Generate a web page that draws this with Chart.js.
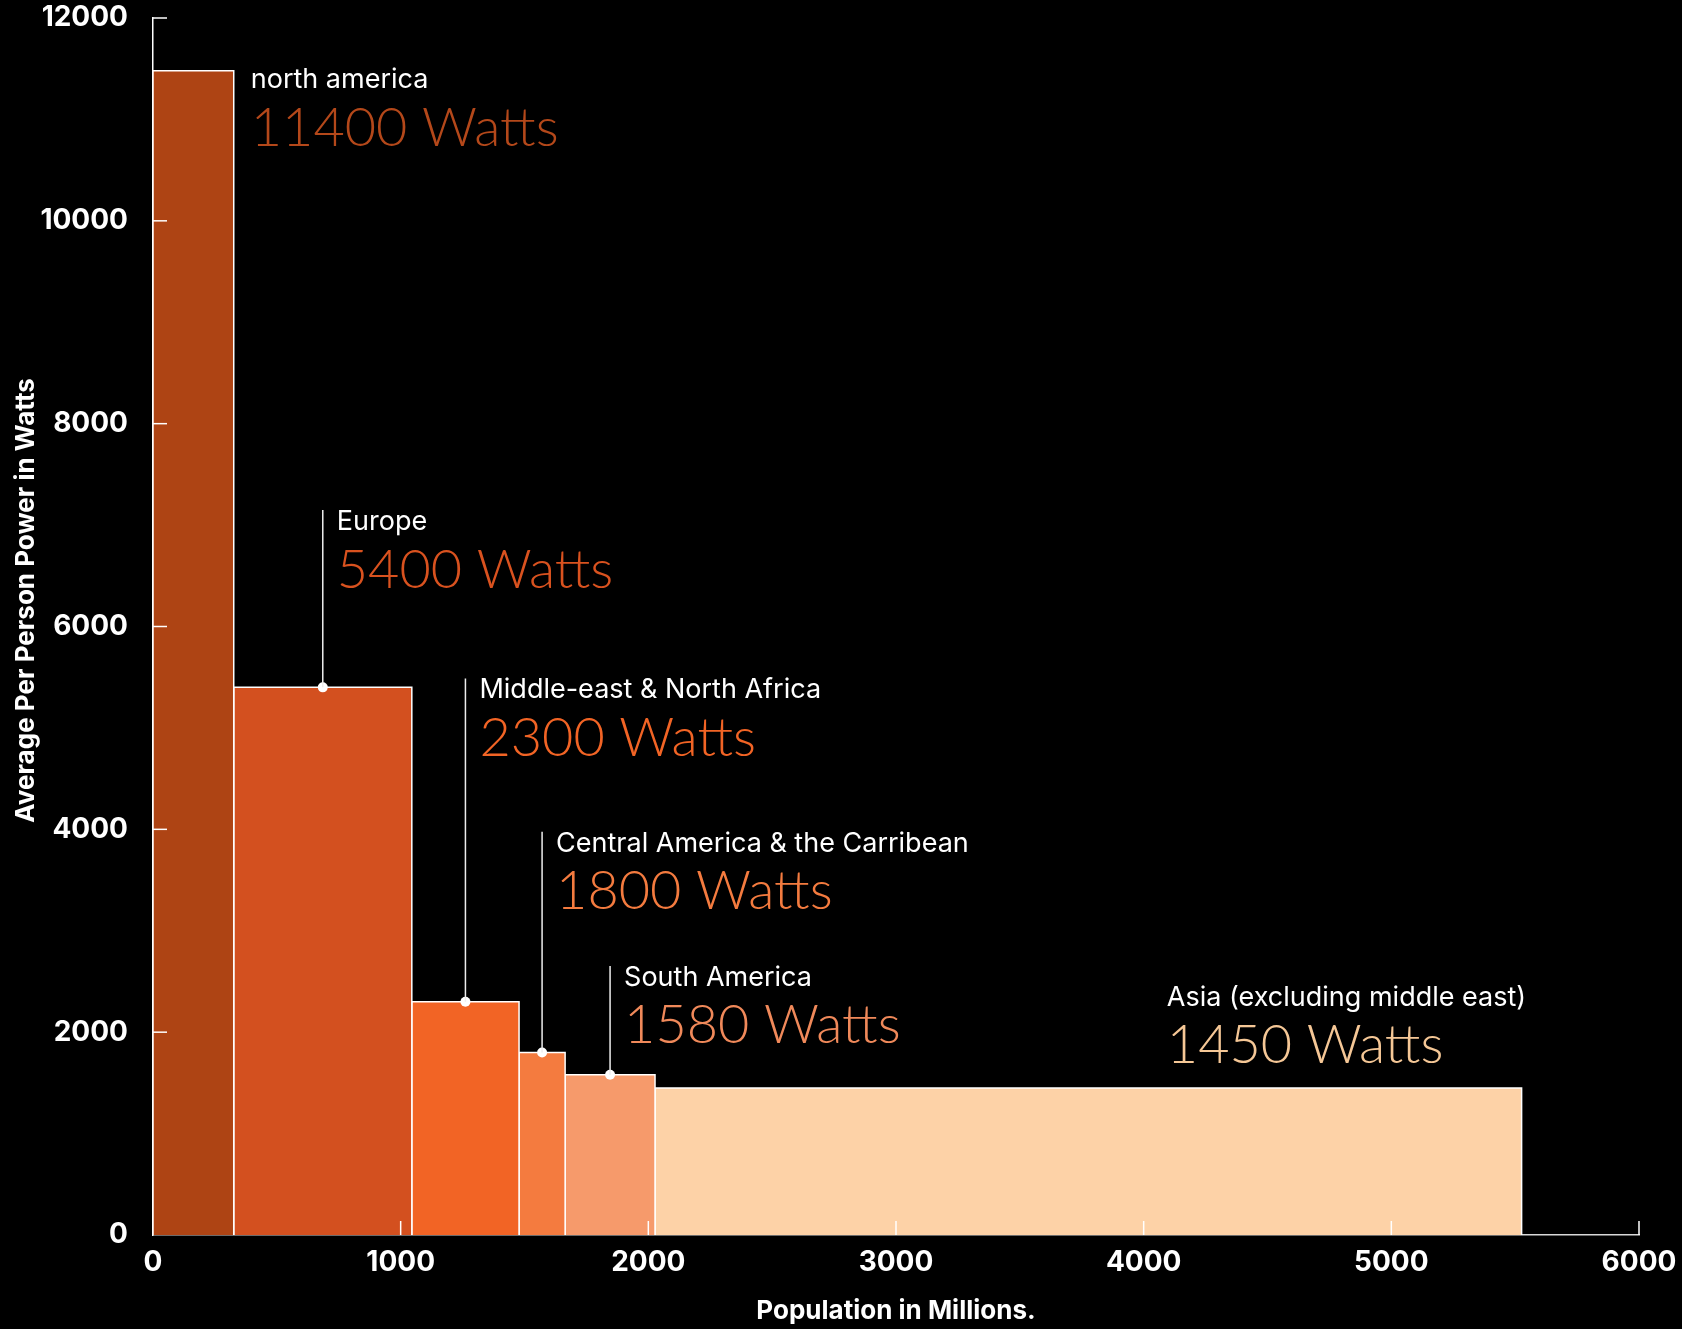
<!DOCTYPE html>
<html>
<head>
<meta charset="utf-8">
<script src="https://cdn.jsdelivr.net/npm/chart.js@4.4.0/dist/chart.umd.min.js"></script>
<style>
  html, body { margin: 0; padding: 0; background: #000; }
  #wrap { width: 1682px; height: 1329px; }
</style>
</head>
<body>
<div id="wrap"><canvas id="myChart"></canvas></div>
<script>
var regions = ["north america", "Europe", "Middle-east & North Africa", "Central America & the Carribean", "South America", "Asia (excluding middle east)"];
// population in millions, each region sits after the previous one
var popStart = [0, 326, 1045, 1478, 1664, 2027];
var popEnd = [326, 1045, 1478, 1664, 2027, 5526];
var power = [11480, 5400, 2300, 1800, 1580, 1450];
var wattLabels = [11400, 5400, 2300, 1800, 1580, 1450];
var xTicks = [0, 1000, 2000, 3000, 4000, 5000, 6000];
var yTicks = [0, 2000, 4000, 6000, 8000, 10000, 12000];

var colors = ["#ae4414", "#d3501f", "#f26425", "#f47b3f", "#f69a6b", "#fdd2a7"];
var textColors = ["#b4481a", "#d9521f", "#f26425", "#f47b3f", "#f0895a", "#f5c796"];

// where each label's first line sits (in chart units)
var hasLeader = [false, true, true, true, true, false];
var labelX = [326, null, null, null, null, 4025];
var labelBase = [11308, 6951, 5291, 3778, 2456, 2259];

var datasets = [];

// dots on top of the bars that have a leader line
var dots = [];
for (var i = 0; i < regions.length; i++) {
  if (hasLeader[i]) dots.push({ x: (popStart[i] + popEnd[i]) / 2, y: power[i] });
}
datasets.push({
  data: dots,
  showLine: false,
  pointRadius: 5,
  pointBackgroundColor: "#fff",
  pointBorderWidth: 0,
  order: 0
});

for (var i = 0; i < regions.length; i++) {
  datasets.push({
    label: regions[i],
    data: [
      { x: popStart[i], y: 0 },
      { x: popStart[i], y: power[i] },
      { x: popEnd[i], y: power[i] },
      { x: popEnd[i], y: 0 }
    ],
    showLine: true,
    fill: "origin",
    backgroundColor: colors[i],
    borderColor: "#fff",
    borderWidth: 1.5,
    pointRadius: 0,
    tension: 0,
    order: 1
  });
}

function seg(ctx, x1, y1, x2, y2) {
  ctx.beginPath();
  ctx.moveTo(x1, y1);
  ctx.lineTo(x2, y2);
  ctx.stroke();
}

var overlay = {
  id: "overlay",
  afterDatasetsDraw: function (chart) {
    var ctx = chart.ctx, xs = chart.scales.x, ys = chart.scales.y;
    ctx.save();
    ctx.strokeStyle = "#fff";
    ctx.lineWidth = 1.5;
    // ticks point into the plot
    xTicks.forEach(function (v) {
      var px = xs.getPixelForValue(v);
      if (v > 0) seg(ctx, px, ys.bottom, px, ys.bottom - 14);
    });
    yTicks.forEach(function (v) {
      var py = ys.getPixelForValue(v);
      if (v > 0) seg(ctx, xs.left, py, xs.left + 14, py);
    });

    ctx.textBaseline = "alphabetic";
    ctx.textAlign = "left";
    for (var i = 0; i < regions.length; i++) {
      var base = ys.getPixelForValue(labelBase[i]);
      var tx;
      if (hasLeader[i]) {
        var cx = xs.getPixelForValue((popStart[i] + popEnd[i]) / 2);
        ctx.strokeStyle = "#eee";
        ctx.lineWidth = 1.5;
        seg(ctx, cx, ys.getPixelForValue(power[i]), cx, base - 20);
        tx = cx + 14;
      } else {
        tx = xs.getPixelForValue(labelX[i]) + 17;
      }
      ctx.fillStyle = "#fff";
      ctx.font = "400 27px Inter, 'Noto Sans', sans-serif";
      ctx.fillText(regions[i], tx, base);
      ctx.fillStyle = textColors[i];
      ctx.font = "300 54px Lato, Inter, sans-serif";
      ctx.fillText(wattLabels[i] + " Watts", tx, base + 57.5);
    }

    // y axis title, sits a little above the middle of the axis
    ctx.save();
    ctx.translate(26, (ys.top + ys.bottom) / 2 - 26);
    ctx.rotate(-Math.PI / 2);
    ctx.textAlign = "center";
    ctx.textBaseline = "middle";
    ctx.fillStyle = "#fff";
    ctx.font = "700 26px Inter, 'Noto Sans', sans-serif";
    ctx.fillText("Average Per Person Power in Watts", 0, 0);
    ctx.restore();

    ctx.restore();
  }
};

Chart.defaults.font.family = "Inter, 'Noto Sans', sans-serif";
Chart.defaults.color = "#fff";

var myChart = new Chart("myChart", {
  type: "scatter",
  data: { datasets: datasets },
  options: {
    responsive: true,
    maintainAspectRatio: false,
    animation: false,
    layout: { padding: { top: 18, right: 43, left: 0, bottom: 0 } },
    plugins: {
      legend: { display: false },
      tooltip: { enabled: false }
    },
    scales: {
      x: {
        type: "linear",
        min: 0,
        max: 6000,
        afterFit: function (s) {
          s.height = 94;
          s.paddingLeft = 0;
          s.paddingRight = 0;
        },
        grid: { display: false },
        border: { display: true, color: "#d8d8d8", width: 1.5 },
        ticks: {
          stepSize: 1000,
          padding: 3,
          color: "#fff",
          font: { size: 28, weight: "700" },
          callback: function (v) { return String(v); }
        },
        title: {
          display: true,
          text: "Population in Millions.",
          color: "#fff",
          font: { size: 26, weight: "700" },
          padding: { top: 0, bottom: 2 }
        }
      },
      y: {
        type: "linear",
        min: 0,
        max: 12000,
        afterFit: function (s) {
          s.width = 153;
          s.paddingTop = 0;
          s.paddingBottom = 0;
        },
        grid: { display: false },
        border: { display: true, color: "#fff", width: 1.5 },
        ticks: {
          stepSize: 2000,
          padding: 17,
          color: "#fff",
          font: { size: 28, weight: "700" },
          callback: function (v) { return String(v); }
        },
        title: { display: false }
      }
    }
  },
  plugins: [overlay]
});
</script>
</body>
</html>
